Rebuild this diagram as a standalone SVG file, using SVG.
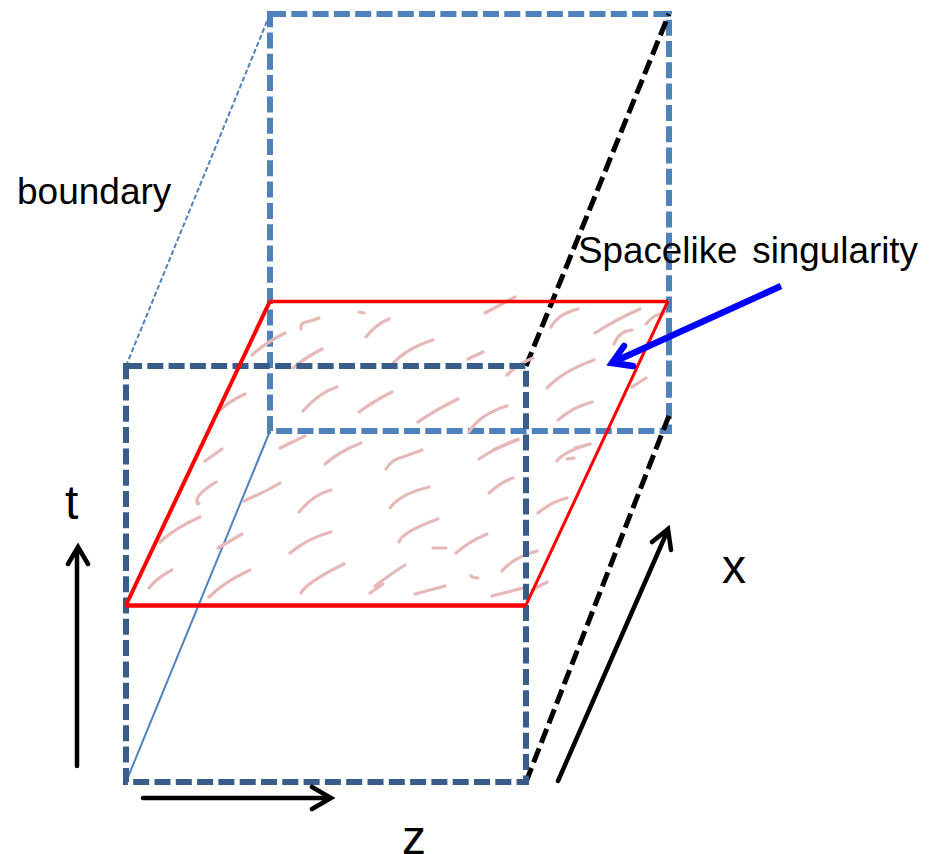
<svg xmlns="http://www.w3.org/2000/svg" width="939" height="854" viewBox="0 0 939 854">
<style>
.h{fill:none;stroke:#E6B9B8;stroke-width:3.2;stroke-linecap:round;stroke-linejoin:round}
.back{fill:none;stroke:#4F81BD;stroke-width:6;stroke-dasharray:16 5.3}
.front{fill:none;stroke:#385D8A;stroke-width:6;stroke-dasharray:16 5.3}
.bk{fill:none;stroke:#000;stroke-width:5;stroke-dasharray:15 6}
.ar{fill:none;stroke:#000;stroke-width:4.5;stroke-linecap:round}
.bl{fill:none;stroke:#00f;stroke-width:6.5}
text{font-family:"Liberation Sans",Arial,sans-serif;fill:#000}
</style>
<rect width="939" height="854" fill="#fff"/>
<g id="connectors-back">
<path class="back" d="M270 14H669V431H270Z"/>
<path d="M126 366L270 14" fill="none" stroke="#4F81BD" stroke-width="2" stroke-dasharray="5 2.5"/>
<path d="M126 782L270 431" fill="none" stroke="#4F81BD" stroke-width="2"/>
<path class="bk" d="M526 366L669 14"/>
<path class="bk" d="M526 782L670 413"/>
</g>
<g id="hatching">
<path class="h" d="M301 329Q300 323 306 322T319 318M359 312L364 313M366 337Q376 324 389 319M252 355Q265 343 285 333M293 368Q303 359 322 349M217 413Q229 401 245 394M303 411Q320 392 337 387M359 412Q374 401 392 392M390 367Q404 349 433 340M280 448L305 436M325 464Q340 451 361 443"/>
<path class="h" d="M485 313L515 297M551 327Q558 314 578 309M595 333Q617 319 640 309M646 324Q654 314 665 313M614 344Q619 331 632 330M468 359L483 352M507 375Q518 364 533 358M547 388Q563 371 594 360M632 387L646 378M558 420Q573 407 592 402M418 422Q437 409 458 399M469 432Q480 414 507 406M493 450L518 439M575 448L590 444"/>
<path class="h" d="M205 461L222 449M386 469Q392 459 403 457L422 450M216 482Q197 494 197 500T199 503M244 501Q267 491 280 483M299 512Q314 494 331 490M390 508Q400 494 429 487M200 517Q175 528 160 542M218 548L242 534M290 553Q308 538 331 532M399 542Q402 532 438 519M149 588Q158 577 172 570M209 597Q224 582 250 570M301 593Q307 582 344 564M375 586Q388 576 405 565M370 593L383 584"/>
<path class="h" d="M479 459Q497 447 518 440M557 461Q563 452 590 444M567 459L574 458M489 493Q503 481 513 478M538 513Q551 502 567 498M433 548L446 548M456 553Q468 542 487 534M502 571Q514 557 537 551M471 576Q473 578 478 578M415 594L445 586M492 596L523 588M532 590L547 582"/>
</g>
<g id="front-box"><path class="front" d="M126 366H526V782H126Z"/></g>
<g id="singularity">
<path d="M126 605.500H526" fill="none" stroke="#f00" stroke-width="4.500"/>
<path d="M270 301.500H668" fill="none" stroke="#f00" stroke-width="3.500"/>
<path d="M126 605L270 301" fill="none" stroke="#f00" stroke-width="4"/>
<path d="M526 605L668 301" fill="none" stroke="#f00" stroke-width="3"/>
</g>
<g id="axes">
<path class="ar" d="M77 766V549M68 564L78 547L88 564"/>
<path class="ar" d="M143 798H329M312 787L331 798L312 809"/>
<path class="ar" d="M558 781L667 532M652 542L668 529L671 550"/>
</g>
<g id="pointer">
<path class="bl" d="M781 286L618 360" stroke-linecap="butt"/>
<path class="bl" d="M624 346L612 363L633 366" stroke-linecap="round" stroke-miterlimit="10"/>
</g>
<g id="labels">
<text x="17" y="204" font-size="37">boundary</text>
<text x="578" y="263" font-size="36.800" word-spacing="4.500">Spacelike singularity</text>
<text x="65" y="519" font-size="48">t</text>
<text x="722" y="583" font-size="48">x</text>
<text x="402" y="854" font-size="48">z</text>
</g>
</svg>
